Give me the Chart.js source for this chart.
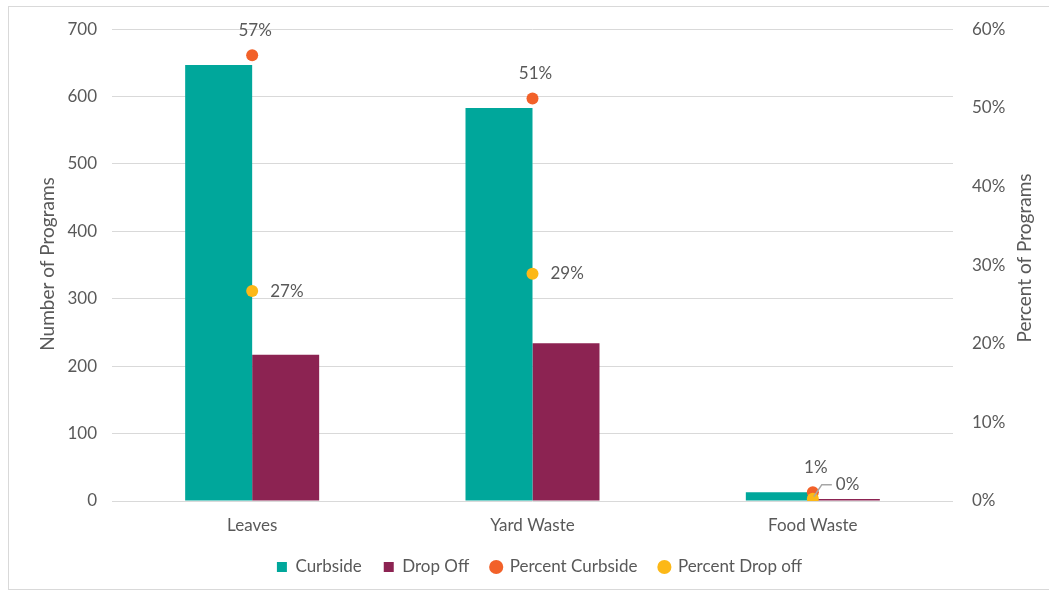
<!DOCTYPE html>
<html lang="en">
<head>
<meta charset="UTF-8">
<title>Programs by Material</title>
<script src="https://cdn.jsdelivr.net/npm/chart.js@4.4.1/dist/chart.umd.min.js"></script>
<style>
  html, body { margin: 0; padding: 0; background: #fff; }
  #frame { position: absolute; left: 8px; top: 6px; width: 1060px; height: 582px; border: 1px solid #d9d9d9; }
  #chart { position: absolute; left: 0; top: 0; }
</style>
</head>
<body>
<div id="frame"></div>
<canvas id="chart" width="1049" height="594"></canvas>
<script>
  // values
  const categories = ['Leaves', 'Yard Waste', 'Food Waste'];
  const curbside = [647, 583, 13];
  const dropOff = [217, 234, 3];
  const pctCurbside = [56.7, 51.2, 1.1];
  const pctDropOff = [26.7, 28.9, 0.3];
  const countTicks = [0, 100, 200, 300, 400, 500, 600, 700];
  const percentTicks = [0, 10, 20, 30, 40, 50, 60];

  const grey = '#595959';
  const family = 'Lato, "Open Sans", sans-serif';
  const font = { family: family, size: 17 };

  // point labels + axis titles
  const labelPlugin = {
    id: 'labels',
    afterLayout(chart) {
      // legend sits a little right of centre in the original
      chart.legend.left += 15;
      chart.legend.right += 15;
    },
    afterDatasetsDraw(chart) {
      const ctx = chart.ctx;
      const top = chart.getDatasetMeta(2).data;
      const low = chart.getDatasetMeta(3).data;
      ctx.save();
      ctx.font = font.size + 'px ' + family;
      ctx.fillStyle = grey;
      ctx.textBaseline = 'middle';
      top.forEach((p, i) => {
        ctx.textAlign = 'center';
        ctx.fillText(Math.round(pctCurbside[i]) + '%', p.x + 3, p.y - 25);
      });
      low.forEach((p, i) => {
        ctx.textAlign = 'left';
        if (Math.abs(p.y - top[i].y) < 20) {
          ctx.strokeStyle = '#a6a6a6';
          ctx.lineWidth = 1.5;
          ctx.beginPath();
          ctx.moveTo(p.x + 1, p.y - 2);
          ctx.lineTo(p.x + 9, p.y - 14);
          ctx.lineTo(p.x + 19, p.y - 14);
          ctx.stroke();
          ctx.fillText(Math.round(pctDropOff[i]) + '%', p.x + 23, p.y - 14);
        } else {
          ctx.fillText(Math.round(pctDropOff[i]) + '%', p.x + 18, p.y);
        }
      });

      ctx.textAlign = 'center';
      ctx.font = '19px ' + family;
      ctx.save();
      ctx.translate(48, 264);
      ctx.rotate(-Math.PI / 2);
      ctx.fillText('Number of Programs', 0, 0);
      ctx.restore();
      ctx.translate(1025, 258);
      ctx.rotate(-Math.PI / 2);
      ctx.fillText('Percent of Programs', 0, 0);
      ctx.restore();
    }
  };

  new Chart(document.getElementById('chart'), {
    data: {
      labels: categories,
      datasets: [
        { type: 'bar', label: 'Curbside', data: curbside, backgroundColor: '#00a79b', yAxisID: 'y', order: 2 },
        { type: 'bar', label: 'Drop Off', data: dropOff, backgroundColor: '#8c2352', yAxisID: 'y', order: 2 },
        { type: 'line', label: 'Percent Curbside', data: pctCurbside, showLine: false, pointRadius: 6,
          pointBackgroundColor: '#f26129', pointBorderWidth: 0, backgroundColor: '#f26129', yAxisID: 'y1', order: 1 },
        { type: 'line', label: 'Percent Drop off', data: pctDropOff, showLine: false, pointRadius: 6,
          pointBackgroundColor: '#fcb817', pointBorderWidth: 0, backgroundColor: '#fcb817', yAxisID: 'y1', order: 0 }
      ]
    },
    options: {
      responsive: false,
      animation: false,
      layout: { padding: { top: 29, right: 0, bottom: 8.5, left: 0 } },
      datasets: { bar: { barPercentage: 1, categoryPercentage: 0.478 } },
      scales: {
        x: {
          grid: { display: false },
          border: { display: false },
          ticks: { color: grey, font: font, padding: 6 },
          afterFit(s) { s.height = 35.5; }
        },
        y: {
          position: 'left',
          min: 0, max: 700,
          afterBuildTicks(s) { s.ticks = countTicks.map(v => ({ value: v })); },
          grid: { color: '#d9d9d9', drawTicks: false },
          border: { display: false },
          ticks: { color: grey, font: font, padding: 15 },
          afterFit(s) { s.width = 112; }
        },
        y1: {
          position: 'right',
          min: 0, max: 60,
          afterBuildTicks(s) { s.ticks = percentTicks.map(v => ({ value: v })); },
          grid: { drawOnChartArea: false, drawTicks: false },
          border: { display: false },
          ticks: { color: grey, font: font, padding: 19, callback: v => v + '%' },
          afterFit(s) { s.width = 96; }
        }
      },
      plugins: {
        tooltip: { enabled: false },
        legend: {
          position: 'bottom',
          labels: {
            color: grey,
            font: font,
            usePointStyle: true,
            boxWidth: 10,
            boxHeight: 10,
            padding: 22,
            sort: (a, b) => a.datasetIndex - b.datasetIndex,
            generateLabels(chart) {
              const items = Chart.defaults.plugins.legend.labels.generateLabels(chart);
              items.forEach(it => {
                it.pointStyle = it.datasetIndex < 2 ? 'rect' : 'circle';
                it.lineWidth = 0;
                it.strokeStyle = 'transparent';
              });
              return items;
            }
          }
        }
      }
    },
    plugins: [labelPlugin]
  });
</script>
</body>
</html>
